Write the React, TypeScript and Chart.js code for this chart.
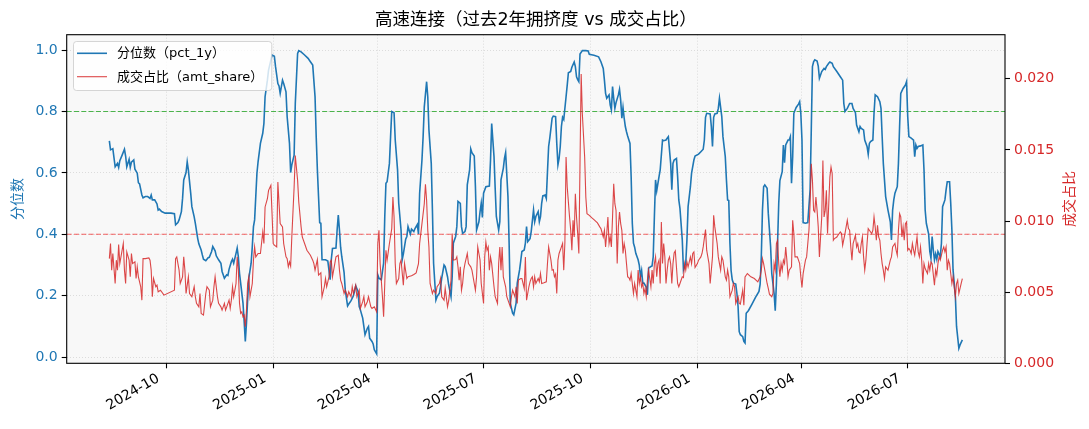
import React, { useEffect, useRef } from "react";
import { Chart, registerables } from "chart.js";

Chart.register(...registerables);

// ---------- text ----------
const TITLE = "高速连接（过去2年拥挤度 vs 成交占比）";
const LEFT_AXIS_TITLE = "分位数";
const RIGHT_AXIS_TITLE = "成交占比";
const PCT_LABEL = "分位数（pct_1y）";
const AMT_LABEL = "成交占比（amt_share）";

// ---------- axes ----------
const xTickDates = ["2024-10-01", "2025-01-01", "2025-04-01", "2025-07-01", "2025-10-01", "2026-01-01", "2026-04-01", "2026-07-01"];
const leftTicks = [0, 0.2, 0.4, 0.6, 0.8, 1.0];
const rightTicks = [0, 0.005, 0.01, 0.015, 0.02];
const leftRange = [-0.02, 1.05];
const rightRange = [0, 0.0231];
const highLine = 0.8;
const lowLine = 0.4;

// ---------- series: 分位数 (pct_1y) ----------
const pctDates = [
  "2024-08-13","2024-08-14","2024-08-16","2024-08-18","2024-08-20","2024-08-21","2024-08-22","2024-08-24","2024-08-26","2024-08-27","2024-08-28","2024-08-30","2024-08-31",
  "2024-09-01","2024-09-03","2024-09-04","2024-09-06","2024-09-07","2024-09-08","2024-09-10","2024-09-11","2024-09-13","2024-09-15","2024-09-17","2024-09-18","2024-09-19","2024-09-21","2024-09-23","2024-09-24","2024-09-25","2024-09-27","2024-09-30",
  "2024-10-05","2024-10-08","2024-10-09","2024-10-11","2024-10-12","2024-10-14","2024-10-15","2024-10-16","2024-10-18","2024-10-19","2024-10-20","2024-10-22","2024-10-23","2024-10-25","2024-10-26","2024-10-28","2024-10-29","2024-10-31",
  "2024-11-01","2024-11-02","2024-11-04","2024-11-06","2024-11-07","2024-11-09","2024-11-10","2024-11-12","2024-11-13","2024-11-15","2024-11-17","2024-11-18","2024-11-20","2024-11-22","2024-11-23","2024-11-24","2024-11-26","2024-11-27","2024-11-28","2024-11-30",
  "2024-12-01","2024-12-02","2024-12-03","2024-12-04","2024-12-06","2024-12-07","2024-12-08","2024-12-09","2024-12-10","2024-12-11","2024-12-13","2024-12-14","2024-12-15","2024-12-16","2024-12-17","2024-12-18","2024-12-19","2024-12-21","2024-12-23","2024-12-24","2024-12-25","2024-12-27","2024-12-28","2024-12-30","2024-12-31",
  "2025-01-02","2025-01-03","2025-01-05","2025-01-06","2025-01-07","2025-01-09","2025-01-10","2025-01-12","2025-01-13","2025-01-15","2025-01-16","2025-01-17","2025-01-19","2025-01-20","2025-01-22","2025-01-23","2025-01-25","2025-01-28","2025-01-31",
  "2025-02-02","2025-02-04","2025-02-06","2025-02-07","2025-02-08","2025-02-09","2025-02-10","2025-02-11","2025-02-12","2025-02-15","2025-02-17","2025-02-19","2025-02-20","2025-02-21","2025-02-24","2025-02-25","2025-02-26","2025-02-27","2025-02-28",
  "2025-03-01","2025-03-03","2025-03-04","2025-03-06","2025-03-07","2025-03-09","2025-03-11","2025-03-12","2025-03-13","2025-03-15","2025-03-16","2025-03-17","2025-03-19","2025-03-20","2025-03-21","2025-03-23","2025-03-24","2025-03-25","2025-03-27","2025-03-28","2025-03-29","2025-03-31",
  "2025-04-01","2025-04-02","2025-04-04","2025-04-06","2025-04-07","2025-04-08","2025-04-09","2025-04-11","2025-04-12","2025-04-13","2025-04-15","2025-04-16","2025-04-18","2025-04-19","2025-04-21","2025-04-22","2025-04-23","2025-04-25","2025-04-26","2025-04-27","2025-04-29","2025-04-30",
  "2025-05-02","2025-05-03","2025-05-05","2025-05-06","2025-05-07","2025-05-09","2025-05-10","2025-05-11","2025-05-13","2025-05-14","2025-05-15","2025-05-17","2025-05-18","2025-05-19","2025-05-21","2025-05-22","2025-05-24","2025-05-25","2025-05-26","2025-05-28","2025-05-29","2025-05-31",
  "2025-06-01","2025-06-03","2025-06-04","2025-06-05","2025-06-07","2025-06-08","2025-06-09","2025-06-11","2025-06-12","2025-06-13","2025-06-15","2025-06-16","2025-06-17","2025-06-19","2025-06-20","2025-06-21","2025-06-23","2025-06-24","2025-06-25","2025-06-27","2025-06-28","2025-06-29","2025-06-30",
  "2025-07-01","2025-07-03","2025-07-06","2025-07-07","2025-07-08","2025-07-10","2025-07-11","2025-07-12","2025-07-14","2025-07-15","2025-07-16","2025-07-18","2025-07-19","2025-07-20","2025-07-22","2025-07-23","2025-07-24","2025-07-26","2025-07-27","2025-07-29","2025-07-30",
  "2025-08-01","2025-08-02","2025-08-03","2025-08-05","2025-08-06","2025-08-07","2025-08-08","2025-08-10","2025-08-11","2025-08-13","2025-08-14","2025-08-15","2025-08-17","2025-08-18","2025-08-19","2025-08-20","2025-08-21","2025-08-23","2025-08-24","2025-08-25","2025-08-26","2025-08-27","2025-08-29","2025-08-30",
  "2025-09-01","2025-09-02","2025-09-03","2025-09-04","2025-09-05","2025-09-06","2025-09-07","2025-09-08","2025-09-10","2025-09-11","2025-09-12","2025-09-14","2025-09-15","2025-09-17","2025-09-18","2025-09-19","2025-09-20","2025-09-21","2025-09-22","2025-09-24","2025-09-27","2025-09-29","2025-09-30",
  "2025-10-04","2025-10-08","2025-10-10","2025-10-12","2025-10-13","2025-10-14","2025-10-15","2025-10-17","2025-10-18","2025-10-19","2025-10-20","2025-10-21","2025-10-22","2025-10-23","2025-10-25","2025-10-26","2025-10-27","2025-10-28","2025-10-29","2025-10-30","2025-10-31",
  "2025-11-01","2025-11-02","2025-11-04","2025-11-05","2025-11-06","2025-11-07","2025-11-08","2025-11-09","2025-11-11","2025-11-12","2025-11-13","2025-11-14","2025-11-15","2025-11-16","2025-11-18","2025-11-19","2025-11-20","2025-11-22","2025-11-23","2025-11-24","2025-11-25","2025-11-26","2025-11-27","2025-11-29","2025-11-30",
  "2025-12-02","2025-12-03","2025-12-05","2025-12-06","2025-12-07","2025-12-09","2025-12-10","2025-12-11","2025-12-12","2025-12-14","2025-12-15","2025-12-16","2025-12-17","2025-12-19","2025-12-20","2025-12-22","2025-12-23","2025-12-24","2025-12-26","2025-12-27","2025-12-29","2025-12-30",
  "2026-01-02","2026-01-04","2026-01-06","2026-01-07","2026-01-08","2026-01-09","2026-01-12","2026-01-13","2026-01-14","2026-01-15","2026-01-16","2026-01-18","2026-01-19","2026-01-20","2026-01-22","2026-01-23","2026-01-25","2026-01-26","2026-01-27","2026-01-28","2026-01-29","2026-01-30","2026-01-31",
  "2026-02-01","2026-02-03","2026-02-04","2026-02-05","2026-02-06","2026-02-07","2026-02-09","2026-02-10","2026-02-11","2026-02-12","2026-02-14","2026-02-17","2026-02-20","2026-02-23","2026-02-24","2026-02-25","2026-02-26","2026-02-27","2026-02-28",
  "2026-03-02","2026-03-03","2026-03-05","2026-03-06","2026-03-08","2026-03-09","2026-03-10","2026-03-11","2026-03-12","2026-03-13","2026-03-15","2026-03-16","2026-03-17","2026-03-18","2026-03-20","2026-03-21","2026-03-22","2026-03-23","2026-03-24","2026-03-25","2026-03-27","2026-03-29","2026-03-30","2026-03-31",
  "2026-04-01","2026-04-02","2026-04-04","2026-04-06","2026-04-08","2026-04-09","2026-04-10","2026-04-11","2026-04-12","2026-04-14","2026-04-15","2026-04-16","2026-04-18","2026-04-20","2026-04-21","2026-04-22","2026-04-24","2026-04-25","2026-04-27","2026-04-28",
  "2026-05-01","2026-05-04","2026-05-06","2026-05-07","2026-05-08","2026-05-10","2026-05-12","2026-05-14","2026-05-15","2026-05-17","2026-05-18","2026-05-20","2026-05-21","2026-05-22","2026-05-24","2026-05-25","2026-05-27","2026-05-28","2026-05-29","2026-05-30",
  "2026-06-01","2026-06-02","2026-06-03","2026-06-05","2026-06-07","2026-06-08","2026-06-09","2026-06-10","2026-06-12","2026-06-13","2026-06-14","2026-06-16","2026-06-17","2026-06-18","2026-06-19","2026-06-20","2026-06-22","2026-06-23","2026-06-24","2026-06-25","2026-06-27","2026-06-29","2026-06-30",
  "2026-07-01","2026-07-02","2026-07-04","2026-07-06","2026-07-07","2026-07-08","2026-07-09","2026-07-10","2026-07-12","2026-07-14","2026-07-15","2026-07-16","2026-07-17","2026-07-19","2026-07-20","2026-07-21","2026-07-22","2026-07-23","2026-07-24","2026-07-25","2026-07-26","2026-07-27","2026-07-29","2026-07-30","2026-07-31",
  "2026-08-02","2026-08-03","2026-08-04","2026-08-06","2026-08-07","2026-08-08","2026-08-09","2026-08-11","2026-08-12","2026-08-14","2026-08-15","2026-08-17",
];
const pctValues = [
  0.704,0.675,0.679,0.620,0.631,0.618,0.640,0.658,0.677,0.655,0.620,0.644,0.618,
  0.635,0.642,0.612,0.599,0.568,0.564,0.528,0.519,0.523,0.523,0.517,0.528,0.512,0.512,0.499,0.479,0.482,0.474,0.469,
  0.469,0.467,0.431,0.438,0.447,0.474,0.517,0.577,0.601,0.636,0.610,0.534,0.490,0.457,0.436,0.387,0.369,0.349,
  0.333,0.319,0.314,0.324,0.325,0.344,0.360,0.346,0.330,0.317,0.306,0.279,0.257,0.268,0.266,0.286,0.311,0.319,0.306,0.338,
  0.355,0.327,0.273,0.241,0.176,0.116,0.051,0.111,0.187,0.257,0.306,0.360,0.425,0.447,0.523,0.599,0.637,0.696,0.729,0.761,0.848,0.902,0.935,0.967,0.984,
  0.980,0.946,0.891,0.883,0.859,0.902,0.891,0.864,0.783,0.696,0.601,0.626,0.658,0.826,0.989,0.998,0.994,0.984,0.973,
  0.962,0.951,0.848,0.718,0.610,0.523,0.438,0.436,0.317,0.317,0.313,0.252,0.319,0.354,0.355,0.414,0.463,0.414,0.358,
  0.327,0.275,0.219,0.167,0.173,0.184,0.200,0.214,0.232,0.214,0.165,0.154,0.127,0.100,0.073,0.094,0.100,0.062,0.051,0.043,0.024,0.011,
  0.268,0.257,0.252,0.306,0.458,0.566,0.571,0.631,0.718,0.800,0.796,0.707,0.610,0.501,0.414,0.317,0.336,0.384,0.393,0.425,0.401,0.417,
  0.409,0.419,0.432,0.401,0.534,0.642,0.718,0.815,0.897,0.848,0.740,0.631,0.479,0.306,0.186,0.197,0.208,0.230,0.257,0.300,0.295,0.262,
  0.235,0.197,0.262,0.371,0.393,0.425,0.507,0.501,0.425,0.403,0.409,0.425,0.561,0.610,0.678,0.666,0.655,0.555,0.414,0.441,0.474,0.501,0.455,
  0.534,0.555,0.557,0.642,0.761,0.653,0.550,0.458,0.414,0.441,0.577,0.615,0.647,0.666,0.523,0.371,0.176,0.143,0.138,0.176,0.241,
  0.284,0.314,0.344,0.349,0.371,0.425,0.376,0.386,0.409,0.479,0.441,0.458,0.474,0.441,0.458,0.501,0.525,0.528,0.517,0.604,0.686,0.713,0.778,0.785,
  0.783,0.696,0.626,0.647,0.686,0.751,0.781,0.774,0.848,0.886,0.926,0.930,0.944,0.961,0.946,0.913,0.904,0.897,0.987,0.998,0.998,0.997,0.986,
  0.983,0.978,0.962,0.940,0.902,0.859,0.843,0.854,0.821,0.805,0.881,0.843,0.810,0.829,0.854,0.872,0.837,0.778,0.813,0.778,0.751,
  0.734,0.720,0.696,0.588,0.436,0.371,0.358,0.338,0.317,0.300,0.262,0.282,0.241,0.241,0.228,0.203,0.290,0.295,0.297,0.327,0.458,0.577,0.542,0.588,0.610,
  0.707,0.705,0.707,0.713,0.718,0.631,0.545,0.631,0.642,0.647,0.588,0.512,0.485,0.382,0.284,0.306,0.382,0.490,0.555,0.599,0.642,0.655,
  0.661,0.669,0.677,0.707,0.781,0.794,0.792,0.751,0.686,0.781,0.792,0.794,0.810,0.843,0.783,0.718,0.653,0.577,0.512,0.510,0.371,0.282,0.252,
  0.241,0.238,0.208,0.165,0.083,0.073,0.067,0.051,0.046,0.143,0.152,0.173,0.195,0.214,0.238,0.327,0.479,0.555,0.561,
  0.550,0.469,0.360,0.273,0.208,0.151,0.241,0.371,0.501,0.575,0.604,0.691,0.633,0.691,0.707,0.707,0.718,0.566,0.653,0.794,0.813,0.824,0.832,0.794,
  0.707,0.438,0.436,0.438,0.545,0.740,0.946,0.962,0.968,0.964,0.948,0.908,0.930,0.940,0.937,0.946,0.957,0.961,0.957,0.946,
  0.930,0.913,0.902,0.826,0.800,0.810,0.826,0.826,0.810,0.796,0.756,0.734,0.751,0.745,0.740,0.707,0.686,0.661,0.696,0.702,
  0.707,0.794,0.854,0.848,0.832,0.810,0.718,0.631,0.523,0.501,0.479,0.441,0.382,0.479,0.512,0.534,0.555,0.631,0.751,0.859,0.875,0.886,0.897,
  0.783,0.718,0.713,0.707,0.653,0.691,0.680,0.686,0.688,0.691,0.610,0.479,0.436,0.401,0.344,0.322,0.393,0.349,0.317,0.336,0.319,0.344,0.327,0.371,0.490,
  0.512,0.545,0.571,0.571,0.501,0.414,0.284,0.197,0.100,0.029,0.040,0.056,
];

// ---------- series: 成交占比 (amt_share) ----------
const amtDates = [
  "2024-08-13","2024-08-14","2024-08-15","2024-08-16","2024-08-18","2024-08-19","2024-08-20","2024-08-21","2024-08-22","2024-08-24","2024-08-25","2024-08-26","2024-08-27","2024-08-28","2024-08-30","2024-08-31",
  "2024-09-01","2024-09-02","2024-09-04","2024-09-05","2024-09-06","2024-09-07","2024-09-09","2024-09-10","2024-09-11","2024-09-13","2024-09-16","2024-09-17","2024-09-18","2024-09-19","2024-09-20","2024-09-22","2024-09-23","2024-09-24","2024-09-26","2024-09-29",
  "2024-10-08","2024-10-09","2024-10-10","2024-10-12","2024-10-13","2024-10-15","2024-10-16","2024-10-17","2024-10-18","2024-10-20","2024-10-21","2024-10-23","2024-10-25","2024-10-26","2024-10-27","2024-10-29","2024-10-30","2024-10-31",
  "2024-11-02","2024-11-04","2024-11-05","2024-11-07","2024-11-08","2024-11-10","2024-11-11","2024-11-12","2024-11-14","2024-11-15","2024-11-17","2024-11-18","2024-11-20","2024-11-21","2024-11-22","2024-11-24","2024-11-25","2024-11-26","2024-11-27","2024-11-28","2024-11-30",
  "2024-12-01","2024-12-02","2024-12-03","2024-12-04","2024-12-05","2024-12-06","2024-12-07","2024-12-08","2024-12-09","2024-12-10","2024-12-11","2024-12-12","2024-12-14","2024-12-15","2024-12-16","2024-12-17","2024-12-19","2024-12-21","2024-12-23","2024-12-24","2024-12-25","2024-12-27","2024-12-28","2024-12-30","2024-12-31",
  "2025-01-01","2025-01-02","2025-01-04","2025-01-05","2025-01-07","2025-01-09","2025-01-10","2025-01-12","2025-01-13","2025-01-14","2025-01-15","2025-01-16","2025-01-17","2025-01-19","2025-01-20","2025-01-22","2025-01-23","2025-01-25","2025-01-26","2025-01-28","2025-01-30",
  "2025-02-02","2025-02-04","2025-02-05","2025-02-06","2025-02-08","2025-02-09","2025-02-11","2025-02-12","2025-02-14","2025-02-15","2025-02-16","2025-02-18","2025-02-19","2025-02-20","2025-02-21","2025-02-23","2025-02-24","2025-02-26","2025-02-27","2025-02-28",
  "2025-03-01","2025-03-03","2025-03-04","2025-03-06","2025-03-07","2025-03-09","2025-03-10","2025-03-11","2025-03-13","2025-03-14","2025-03-16","2025-03-17","2025-03-19","2025-03-20","2025-03-21","2025-03-23","2025-03-24","2025-03-26","2025-03-27","2025-03-29","2025-03-31",
  "2025-04-01","2025-04-02","2025-04-03","2025-04-05","2025-04-06","2025-04-07","2025-04-08","2025-04-09","2025-04-10","2025-04-11","2025-04-13","2025-04-14","2025-04-15","2025-04-16","2025-04-17","2025-04-19","2025-04-20","2025-04-21","2025-04-23","2025-04-24","2025-04-26","2025-04-27","2025-04-30",
  "2025-05-02","2025-05-04","2025-05-06","2025-05-07","2025-05-08","2025-05-09","2025-05-11","2025-05-12","2025-05-13","2025-05-14","2025-05-15","2025-05-16","2025-05-18","2025-05-19","2025-05-21","2025-05-22","2025-05-24","2025-05-25","2025-05-26","2025-05-28","2025-05-29","2025-05-31",
  "2025-06-01","2025-06-03","2025-06-04","2025-06-05","2025-06-07","2025-06-08","2025-06-09","2025-06-10","2025-06-11","2025-06-12","2025-06-13","2025-06-14","2025-06-15","2025-06-17","2025-06-18","2025-06-20","2025-06-21","2025-06-23","2025-06-24","2025-06-25","2025-06-26","2025-06-27","2025-06-28","2025-06-29",
  "2025-07-01","2025-07-02","2025-07-03","2025-07-04","2025-07-05","2025-07-06","2025-07-07","2025-07-08","2025-07-10","2025-07-11","2025-07-13","2025-07-14","2025-07-15","2025-07-16","2025-07-17","2025-07-18","2025-07-20","2025-07-21","2025-07-23","2025-07-24","2025-07-25","2025-07-26","2025-07-28","2025-07-29","2025-07-30","2025-07-31",
  "2025-08-02","2025-08-03","2025-08-05","2025-08-06","2025-08-07","2025-08-09","2025-08-10","2025-08-11","2025-08-12","2025-08-13","2025-08-14","2025-08-15","2025-08-17","2025-08-18","2025-08-19","2025-08-20","2025-08-22","2025-08-24","2025-08-25","2025-08-26","2025-08-28","2025-08-29","2025-08-30","2025-08-31",
  "2025-09-01","2025-09-02","2025-09-03","2025-09-04","2025-09-06","2025-09-07","2025-09-08","2025-09-09","2025-09-10","2025-09-11","2025-09-13","2025-09-14","2025-09-15","2025-09-16","2025-09-17","2025-09-18","2025-09-19","2025-09-20","2025-09-21","2025-09-22","2025-09-23","2025-09-24","2025-09-26","2025-09-27","2025-09-28","2025-09-30",
  "2025-10-02","2025-10-04","2025-10-07","2025-10-09","2025-10-10","2025-10-12","2025-10-13","2025-10-14","2025-10-15","2025-10-16","2025-10-17","2025-10-18","2025-10-19","2025-10-20","2025-10-21","2025-10-22","2025-10-23","2025-10-24","2025-10-25","2025-10-26","2025-10-27","2025-10-28","2025-10-29","2025-10-30","2025-10-31",
  "2025-11-01","2025-11-02","2025-11-03","2025-11-04","2025-11-05","2025-11-07","2025-11-08","2025-11-09","2025-11-10","2025-11-11","2025-11-12","2025-11-13","2025-11-14","2025-11-15","2025-11-16","2025-11-17","2025-11-18","2025-11-19","2025-11-20","2025-11-21","2025-11-22","2025-11-23","2025-11-24","2025-11-25","2025-11-26","2025-11-27","2025-11-28","2025-11-29","2025-11-30",
  "2025-12-01","2025-12-02","2025-12-03","2025-12-04","2025-12-05","2025-12-06","2025-12-07","2025-12-08","2025-12-09","2025-12-10","2025-12-11","2025-12-12","2025-12-13","2025-12-15","2025-12-16","2025-12-17","2025-12-19","2025-12-20","2025-12-21","2025-12-22","2025-12-23","2025-12-24","2025-12-26","2025-12-27","2025-12-28","2025-12-29","2025-12-30",
  "2026-01-01","2026-01-02","2026-01-04","2026-01-05","2026-01-06","2026-01-08","2026-01-09","2026-01-10","2026-01-11","2026-01-12","2026-01-14","2026-01-15","2026-01-16","2026-01-18","2026-01-19","2026-01-20","2026-01-21","2026-01-22","2026-01-23","2026-01-25","2026-01-26","2026-01-27","2026-01-28","2026-01-29","2026-01-31",
  "2026-02-01","2026-02-02","2026-02-03","2026-02-05","2026-02-06","2026-02-07","2026-02-08","2026-02-09","2026-02-10","2026-02-11","2026-02-13","2026-02-16","2026-02-19","2026-02-22","2026-02-24","2026-02-25","2026-02-26","2026-02-27","2026-02-28",
  "2026-03-01","2026-03-02","2026-03-03","2026-03-04","2026-03-06","2026-03-07","2026-03-08","2026-03-09","2026-03-10","2026-03-11","2026-03-12","2026-03-13","2026-03-14","2026-03-15","2026-03-16","2026-03-17","2026-03-18","2026-03-19","2026-03-20","2026-03-21","2026-03-23","2026-03-24","2026-03-25","2026-03-26","2026-03-28","2026-03-29","2026-03-30","2026-03-31",
  "2026-04-01","2026-04-02","2026-04-03","2026-04-04","2026-04-05","2026-04-07","2026-04-08","2026-04-09","2026-04-10","2026-04-11","2026-04-12","2026-04-13","2026-04-14","2026-04-15","2026-04-16","2026-04-18","2026-04-19","2026-04-20","2026-04-21","2026-04-22","2026-04-23","2026-04-25","2026-04-26","2026-04-27","2026-04-28","2026-04-29",
  "2026-05-01","2026-05-02","2026-05-04","2026-05-05","2026-05-06","2026-05-08","2026-05-09","2026-05-10","2026-05-11","2026-05-12","2026-05-13","2026-05-14","2026-05-15","2026-05-17","2026-05-18","2026-05-19","2026-05-20","2026-05-21","2026-05-22","2026-05-23","2026-05-24","2026-05-25","2026-05-26","2026-05-27","2026-05-28","2026-05-29","2026-05-31",
  "2026-06-01","2026-06-02","2026-06-03","2026-06-04","2026-06-05","2026-06-06","2026-06-07","2026-06-08","2026-06-09","2026-06-10","2026-06-11","2026-06-12","2026-06-13","2026-06-14","2026-06-16","2026-06-17","2026-06-18","2026-06-20","2026-06-21","2026-06-22","2026-06-23","2026-06-24","2026-06-25","2026-06-26","2026-06-27","2026-06-28","2026-06-29","2026-06-30",
  "2026-07-01","2026-07-02","2026-07-03","2026-07-04","2026-07-05","2026-07-06","2026-07-07","2026-07-09","2026-07-10","2026-07-11","2026-07-12","2026-07-13","2026-07-14","2026-07-15","2026-07-16","2026-07-18","2026-07-19","2026-07-20","2026-07-21","2026-07-22","2026-07-24","2026-07-25","2026-07-26","2026-07-27","2026-07-28","2026-07-29","2026-07-31",
  "2026-08-01","2026-08-02","2026-08-03","2026-08-04","2026-08-05","2026-08-06","2026-08-07","2026-08-08","2026-08-09","2026-08-11","2026-08-12","2026-08-13","2026-08-14","2026-08-16","2026-08-17",
];
const amtValues = [
  0.00736,0.00842,0.00655,0.00772,0.00561,0.00725,0.00655,0.00835,0.00701,0.00795,0.00842,0.00655,0.00561,0.00783,0.00725,0.00608,
  0.00772,0.00701,0.00713,0.00596,0.00678,0.00608,0.00538,0.00444,0.00736,0.00736,0.00741,0.00725,0.00655,0.00468,0.00596,0.00538,0.00549,0.00503,0.00514,0.00479,
  0.00514,0.00736,0.00748,0.00655,0.00561,0.00608,0.00748,0.00655,0.00491,0.00608,0.00491,0.00468,0.00538,0.00468,0.00421,0.00397,0.00491,0.00351,
  0.00339,0.00491,0.00538,0.00514,0.00397,0.00444,0.00538,0.00608,0.00468,0.00421,0.00397,0.00374,0.00421,0.00374,0.00397,0.00444,0.00386,0.00444,0.00538,0.00468,0.00561,
  0.00748,0.00655,0.00421,0.00351,0.00362,0.00327,0.00339,0.00257,0.00374,0.00561,0.00608,0.00468,0.00561,0.00725,0.00818,0.00748,0.00772,0.00772,0.00923,0.00842,0.01099,0.01157,0.01216,0.01251,0.01052,
  0.00842,0.00830,0.00818,0.01274,0.00982,0.00959,0.00842,0.00748,0.00736,0.00678,0.00713,0.00683,0.00888,0.01239,0.01461,0.01286,0.01134,0.00959,0.00888,0.00842,0.00795,
  0.00760,0.00725,0.00701,0.00655,0.00729,0.00620,0.00636,0.00468,0.00538,0.00596,0.00538,0.00608,0.00713,0.00725,0.00608,0.00701,0.00748,0.00760,0.00655,0.00585,
  0.00561,0.00491,0.00514,0.00468,0.00503,0.00468,0.00538,0.00491,0.00549,0.00468,0.00514,0.00386,0.00433,0.00468,0.00397,0.00433,0.00468,0.00397,0.00386,0.00397,0.00362,
  0.00842,0.00935,0.00701,0.00468,0.00327,0.00561,0.00795,0.00725,0.00783,0.00842,0.00947,0.01169,0.01029,0.00701,0.00561,0.00596,0.00701,0.00725,0.00549,0.00701,0.00596,0.00608,0.00615,
  0.00624,0.00636,0.00701,0.00842,0.00912,0.00982,0.01122,0.01258,0.01146,0.00935,0.00818,0.00561,0.00491,0.00514,0.00491,0.00538,0.00561,0.00596,0.00468,0.00444,0.00526,0.00397,
  0.00440,0.00585,0.00912,0.00725,0.00729,0.00748,0.00678,0.00585,0.00678,0.00514,0.00561,0.00655,0.00701,0.00772,0.00701,0.00678,0.00655,0.00561,0.00514,0.00608,0.00818,0.00772,0.00725,0.00561,
  0.00421,0.00748,0.00853,0.00795,0.00818,0.00655,0.00748,0.00701,0.00538,0.00468,0.00421,0.00701,0.00818,0.00655,0.00818,0.00608,0.00538,0.00468,0.00421,0.00397,0.00468,0.00514,0.00468,0.00538,0.00421,0.00585,
  0.00596,0.00596,0.00526,0.00748,0.00444,0.00538,0.00573,0.00596,0.00608,0.00538,0.00608,0.00561,0.00596,0.00573,0.00631,0.00561,0.00566,0.00573,0.00701,0.00818,0.00725,0.00655,0.00659,0.00608,
  0.00627,0.00491,0.00725,0.00772,0.00818,0.00842,0.00655,0.00853,0.01450,0.01239,0.01029,0.00935,0.00795,0.01005,0.00888,0.01192,0.01029,0.00912,0.00772,0.01403,0.02034,0.01754,0.01450,0.01169,0.01052,0.01040,
  0.01024,0.01010,0.00987,0.00959,0.00947,0.00888,0.00935,0.00818,0.00912,0.01029,0.00842,0.00888,0.00818,0.01029,0.01262,0.01122,0.01075,0.00701,0.00959,0.01064,0.00982,0.00935,0.00772,0.00842,0.00795,
  0.00701,0.00608,0.00603,0.00585,0.00631,0.00491,0.00561,0.00514,0.00468,0.00655,0.00561,0.00608,0.00538,0.00561,0.00491,0.00526,0.00468,0.00585,0.00655,0.00596,0.00538,0.00655,0.00561,0.00701,0.00748,0.00608,0.00701,0.00725,0.00561,
  0.00994,0.00701,0.00842,0.00748,0.00561,0.00655,0.00725,0.00748,0.00701,0.00561,0.00701,0.00776,0.00790,0.00561,0.00538,0.00561,0.00608,0.00603,0.00701,0.00655,0.00713,0.00678,0.00748,0.00701,0.00772,0.00783,0.00673,
  0.00701,0.00725,0.00748,0.00772,0.00818,0.00940,0.00795,0.00748,0.00701,0.00561,0.00748,0.01040,0.00959,0.00842,0.00748,0.00701,0.00655,0.00748,0.00725,0.00608,0.00585,0.00655,0.00608,0.00468,0.00514,
  0.00561,0.00538,0.00421,0.00468,0.00421,0.00416,0.00468,0.00514,0.00409,0.00608,0.00631,0.00608,0.00596,0.00573,0.00608,0.00655,0.00736,0.00701,0.00655,
  0.00608,0.00561,0.00526,0.00486,0.00468,0.00491,0.00701,0.00655,0.00842,0.00865,0.00701,0.00608,0.00701,0.00655,0.00725,0.00701,0.00818,0.00725,0.00608,0.00655,0.00678,0.01005,0.00912,0.00748,0.00748,0.00725,0.00701,0.00608,
  0.00533,0.00631,0.00678,0.00725,0.00748,0.00935,0.01122,0.01403,0.01286,0.01075,0.01064,0.01169,0.01075,0.00959,0.00748,0.01029,0.01426,0.01029,0.01075,0.01216,0.00912,0.01309,0.01379,0.01333,0.00865,0.00877,
  0.00888,0.00900,0.00923,0.00912,0.00830,0.00912,0.00959,0.01005,0.00947,0.00935,0.00818,0.00725,0.00842,0.00900,0.00818,0.00842,0.00783,0.00776,0.00842,0.00888,0.00748,0.00655,0.00725,0.00842,0.00947,0.00935,0.00912,
  0.00935,0.01029,0.00959,0.00865,0.00970,0.00888,0.00865,0.00772,0.00701,0.00655,0.00596,0.00678,0.00666,0.00655,0.00725,0.00748,0.00818,0.00842,0.00795,0.00760,0.00935,0.01052,0.01029,0.00888,0.00959,0.00865,0.00982,0.00994,
  0.00795,0.00807,0.00795,0.00772,0.00842,0.00795,0.00760,0.00888,0.00783,0.00748,0.00818,0.00725,0.00561,0.00701,0.00666,0.00631,0.00701,0.00655,0.00713,0.00701,0.00549,0.00655,0.00620,0.00701,0.00748,0.00725,0.00795,
  0.00818,0.00783,0.00818,0.00655,0.00725,0.00701,0.00631,0.00561,0.00608,0.00468,0.00561,0.00585,0.00491,0.00561,0.00596,
];

// ---------- style ----------
const FONT = "'DejaVu Sans', 'Noto Sans CJK SC', sans-serif";
const BLUE = "#1f77b4";
const RED_LINE = "rgba(214,39,40,0.85)";
const RED_TEXT = "#d62728";
const GREEN_DASH = "#4cb34c";
const RED_DASH = "rgba(240,40,40,0.72)";
const PLOT_BG = "#f8f8f8";
const GRID = "#d4d4d4";

const toX = (s: string) => Date.parse(s + "T00:00:00Z");
const toPoints = (dates: string[], values: number[]) => {
  const n = Math.min(dates.length, values.length);
  const pts: { x: number; y: number }[] = [];
  for (let i = 0; i < n; i++) pts.push({ x: toX(dates[i]), y: values[i] });
  return pts;
};
const fmtMonth = (v: number) => {
  const d = new Date(v);
  return `${d.getUTCFullYear()}-${String(d.getUTCMonth() + 1).padStart(2, "0")}`;
};

const decorPlugin = {
  id: "decor",
  beforeDraw(chart: any) {
    const { ctx, chartArea: a, width, height } = chart;
    ctx.save();
    ctx.fillStyle = "#ffffff";
    ctx.fillRect(0, 0, width, height);
    ctx.fillStyle = PLOT_BG;
    ctx.fillRect(a.left, a.top, a.right - a.left, a.bottom - a.top);
    ctx.restore();
  },
  beforeDatasetsDraw(chart: any) {
    const { ctx, chartArea: a, scales } = chart;
    const lines = [
      { v: highLine, c: GREEN_DASH },
      { v: lowLine, c: RED_DASH },
    ];
    ctx.save();
    ctx.lineWidth = 1.1;
    ctx.setLineDash([5, 2.3]);
    for (const ln of lines) {
      const y = scales.y.getPixelForValue(ln.v);
      ctx.strokeStyle = ln.c;
      ctx.beginPath();
      ctx.moveTo(a.left, y);
      ctx.lineTo(a.right, y);
      ctx.stroke();
    }
    ctx.restore();
  },
  afterDraw(chart: any) {
    const { ctx, chartArea: a } = chart;
    ctx.save();
    // frame
    ctx.strokeStyle = "#000";
    ctx.lineWidth = 1.1;
    ctx.strokeRect(a.left, a.top, a.right - a.left, a.bottom - a.top);
    // title
    ctx.fillStyle = "#000";
    ctx.font = `17.5px ${FONT}`;
    ctx.textAlign = "center";
    ctx.textBaseline = "middle";
    ctx.fillText(TITLE, (a.left + a.right) / 2, 20);
    // axis titles
    const cy = (a.top + a.bottom) / 2;
    ctx.font = `14px ${FONT}`;
    ctx.fillStyle = BLUE;
    ctx.save();
    ctx.translate(18, cy);
    ctx.rotate(-Math.PI / 2);
    ctx.fillText(LEFT_AXIS_TITLE, 0, 0);
    ctx.restore();
    ctx.fillStyle = RED_TEXT;
    ctx.save();
    ctx.translate(1070, cy);
    ctx.rotate(-Math.PI / 2);
    ctx.fillText(RIGHT_AXIS_TITLE, 0, 0);
    ctx.restore();
    // legend
    const items = [PCT_LABEL, AMT_LABEL].map((lab) => chart.data.datasets.find((d: any) => d.label === lab));
    ctx.font = `13px ${FONT}`;
    const textW = Math.max(...items.map((d: any) => ctx.measureText(d.label).width));
    const bx = a.left + 6.3;
    const by = a.top + 6.3;
    const bw = 44 + textW + 8;
    const bh = 49;
    ctx.fillStyle = "rgba(255,255,255,0.8)";
    ctx.strokeStyle = "rgba(204,204,204,0.8)";
    ctx.lineWidth = 1;
    ctx.beginPath();
    (ctx as any).roundRect(bx + 0.5, by + 0.5, bw, bh, 3);
    ctx.fill();
    ctx.stroke();
    items.forEach((d: any, i: number) => {
      const y = by + 12.3 + i * 23.4;
      ctx.strokeStyle = d.borderColor;
      ctx.lineWidth = d.borderWidth;
      ctx.setLineDash([]);
      ctx.beginPath();
      ctx.moveTo(bx + 4, y);
      ctx.lineTo(bx + 34, y);
      ctx.stroke();
      ctx.fillStyle = "#000";
      ctx.textAlign = "left";
      ctx.textBaseline = "middle";
      ctx.fillText(d.label, bx + 44, y + 0.5);
    });
    ctx.restore();
  },
};

export default function App() {
  const ref = useRef<HTMLCanvasElement>(null);
  useEffect(() => {
    document.body.style.margin = "0";
    const canvas = ref.current;
    if (!canvas) return;
    Chart.defaults.font.family = FONT;
    Chart.defaults.color = "#000";
    const pctPts = toPoints(pctDates, pctValues);
    const amtPts = toPoints(amtDates, amtValues);
    const first = pctPts[0].x;
    const last = pctPts[pctPts.length - 1].x;
    const margin = (last - first) * 0.05;
    const tickFont = { family: FONT, size: 14 };
    const chart = new Chart(canvas, {
      type: "line",
      data: {
        datasets: [
          { label: AMT_LABEL, data: amtPts, yAxisID: "y1", borderColor: RED_LINE, borderWidth: 1.1, pointRadius: 0, tension: 0, fill: false, order: 0 },
          { label: PCT_LABEL, data: pctPts, yAxisID: "y", borderColor: BLUE, borderWidth: 1.6, pointRadius: 0, tension: 0, fill: false, order: 1 },
        ],
      } as any,
      options: {
        responsive: false,
        animation: false,
        events: [],
        devicePixelRatio: 1,
        layout: { padding: { top: 34.7, left: 0, right: 0, bottom: 0 } },
        plugins: { legend: { display: false }, title: { display: false }, tooltip: { enabled: false } },
        scales: {
          x: {
            type: "linear",
            position: "bottom",
            min: first - margin,
            max: last + margin,
            afterBuildTicks: (s: any) => {
              s.ticks = xTickDates.map((d) => ({ value: toX(d) }));
            },
            afterFit: (s: any) => {
              s.height = 65.7;
            },
            ticks: { callback: (v: any) => fmtMonth(Number(v)), autoSkip: false, minRotation: 30, maxRotation: 30, font: tickFont, color: "#000", padding: 2, labelOffset: -8 },
            grid: { color: GRID, lineWidth: 0.8, drawTicks: true, tickLength: 5, tickColor: "#000", tickWidth: 1.1, tickBorderDash: [] },
            border: { display: false, dash: [1, 2] },
          },
          y: {
            type: "linear",
            position: "left",
            min: leftRange[0],
            max: leftRange[1],
            afterBuildTicks: (s: any) => {
              s.ticks = leftTicks.map((v) => ({ value: v }));
            },
            afterFit: (s: any) => {
              s.width = 66.7;
            },
            ticks: { callback: (v: any) => Number(v).toFixed(1), font: tickFont, color: BLUE, padding: 4 },
            grid: { color: GRID, lineWidth: 0.8, drawTicks: true, tickLength: 5, tickColor: "#000", tickWidth: 1.1, tickBorderDash: [] },
            border: { display: false, dash: [1, 2] },
          },
          y1: {
            type: "linear",
            position: "right",
            min: rightRange[0],
            max: rightRange[1],
            afterBuildTicks: (s: any) => {
              s.ticks = rightTicks.map((v) => ({ value: v }));
            },
            afterFit: (s: any) => {
              s.width = 84;
            },
            ticks: { callback: (v: any) => Number(v).toFixed(3), font: tickFont, color: RED_TEXT, padding: 4 },
            grid: { drawOnChartArea: false, drawTicks: true, tickLength: 5, tickColor: "#000", tickWidth: 1.1 },
            border: { display: false },
          },
        },
      } as any,
      plugins: [decorPlugin],
    });
    return () => chart.destroy();
  }, []);
  return <canvas ref={ref} width={1089} height={429} style={{ display: "block", width: "1089px", height: "429px" }} />;
}
